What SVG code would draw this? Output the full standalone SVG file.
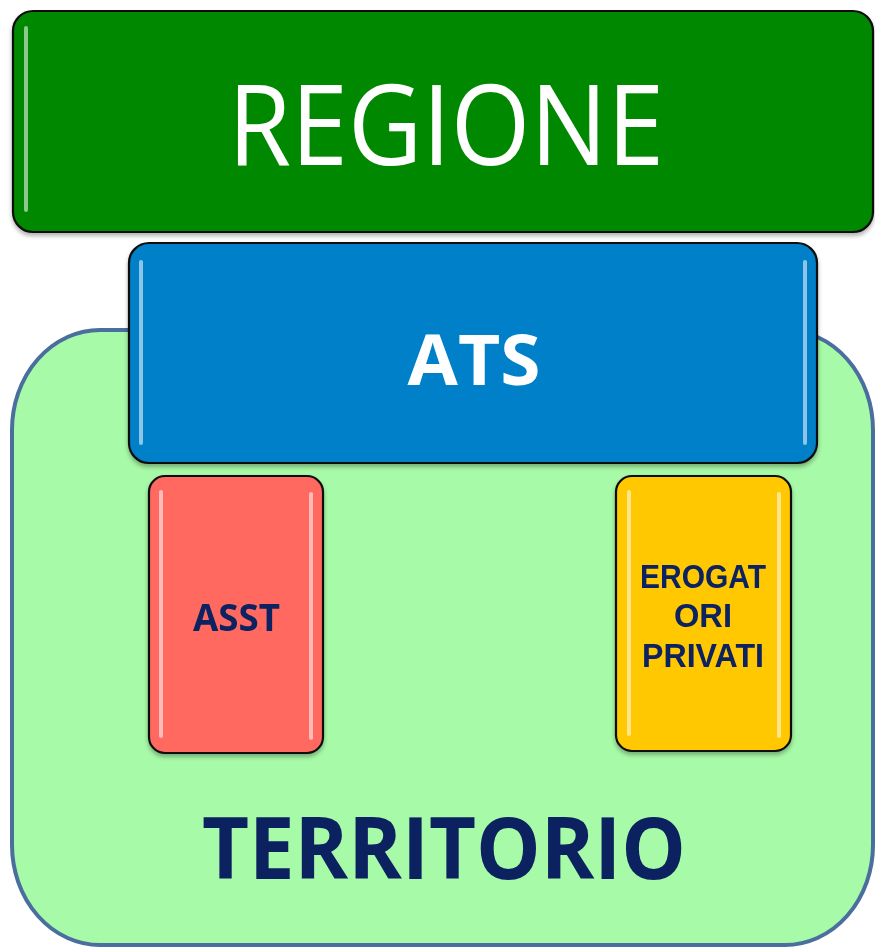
<svg xmlns="http://www.w3.org/2000/svg" width="875" height="947" viewBox="0 0 875 947">
<defs>
<style>
.box{stroke:#111;stroke-width:2.2}
.hl{stroke:#fff;stroke-width:4;stroke-linecap:round;opacity:0.55}
.lbl{font-family:"Open Sans","Liberation Sans",sans-serif;text-anchor:middle}
.navy{fill:#0B2160;font-weight:bold}
.sm{font-family:"Liberation Sans","Open Sans",sans-serif;font-size:33px}
</style>
<filter id="sh" x="-5%" y="-5%" width="110%" height="115%">
<feDropShadow dx="0" dy="3" stdDeviation="2" flood-color="#000" flood-opacity="0.3"/>
</filter>
</defs>
<rect width="875" height="947" fill="#fff"/>
<g id="territorio">
<rect x="12" y="330" width="861" height="615" rx="88" ry="100" fill="#A7FAA7" stroke="#4A6E9E" stroke-width="4"/>
<text class="lbl navy" x="444" y="879" font-size="86" textLength="484" lengthAdjust="spacingAndGlyphs">TERRITORIO</text>
</g>
<g id="regione" filter="url(#sh)">
<rect class="box" x="13" y="11" width="860" height="221" rx="20" fill="#008800"/>
<line class="hl" x1="26" y1="28" x2="26" y2="210"/>
<text class="lbl" x="446" y="165" font-size="112" fill="#fff" textLength="436" lengthAdjust="spacingAndGlyphs">REGIONE</text>
</g>
<g id="ats" filter="url(#sh)">
<rect class="box" x="129" y="243" width="688" height="220" rx="20" fill="#0080C8"/>
<line class="hl" x1="141" y1="262" x2="141" y2="443"/>
<line class="hl" x1="805" y1="262" x2="805" y2="443"/>
<text class="lbl" x="474" y="385" font-size="70" font-weight="bold" fill="#fff" textLength="133" lengthAdjust="spacingAndGlyphs">ATS</text>
</g>
<g id="asst" filter="url(#sh)">
<rect class="box" x="149" y="476" width="174" height="277" rx="16" fill="#FF6961"/>
<line class="hl" x1="161" y1="492" x2="161" y2="736"/>
<line class="hl" x1="311" y1="494" x2="311" y2="738"/>
<text class="lbl navy" x="236.5" y="631" font-size="38" textLength="87" lengthAdjust="spacingAndGlyphs">ASST</text>
</g>
<g id="erogatori" filter="url(#sh)">
<rect class="box" x="616" y="476" width="175" height="275" rx="16" fill="#FFC800"/>
<line class="hl" x1="629" y1="492" x2="629" y2="734"/>
<line class="hl" x1="779" y1="494" x2="779" y2="736"/>
<text class="lbl navy sm" x="703" y="588" textLength="126" lengthAdjust="spacingAndGlyphs">EROGAT</text>
<text class="lbl navy sm" x="703" y="627" textLength="58" lengthAdjust="spacingAndGlyphs">ORI</text>
<text class="lbl navy sm" x="703" y="667" textLength="122" lengthAdjust="spacingAndGlyphs">PRIVATI</text>
</g>
<g id="connectors"/>
</svg>
